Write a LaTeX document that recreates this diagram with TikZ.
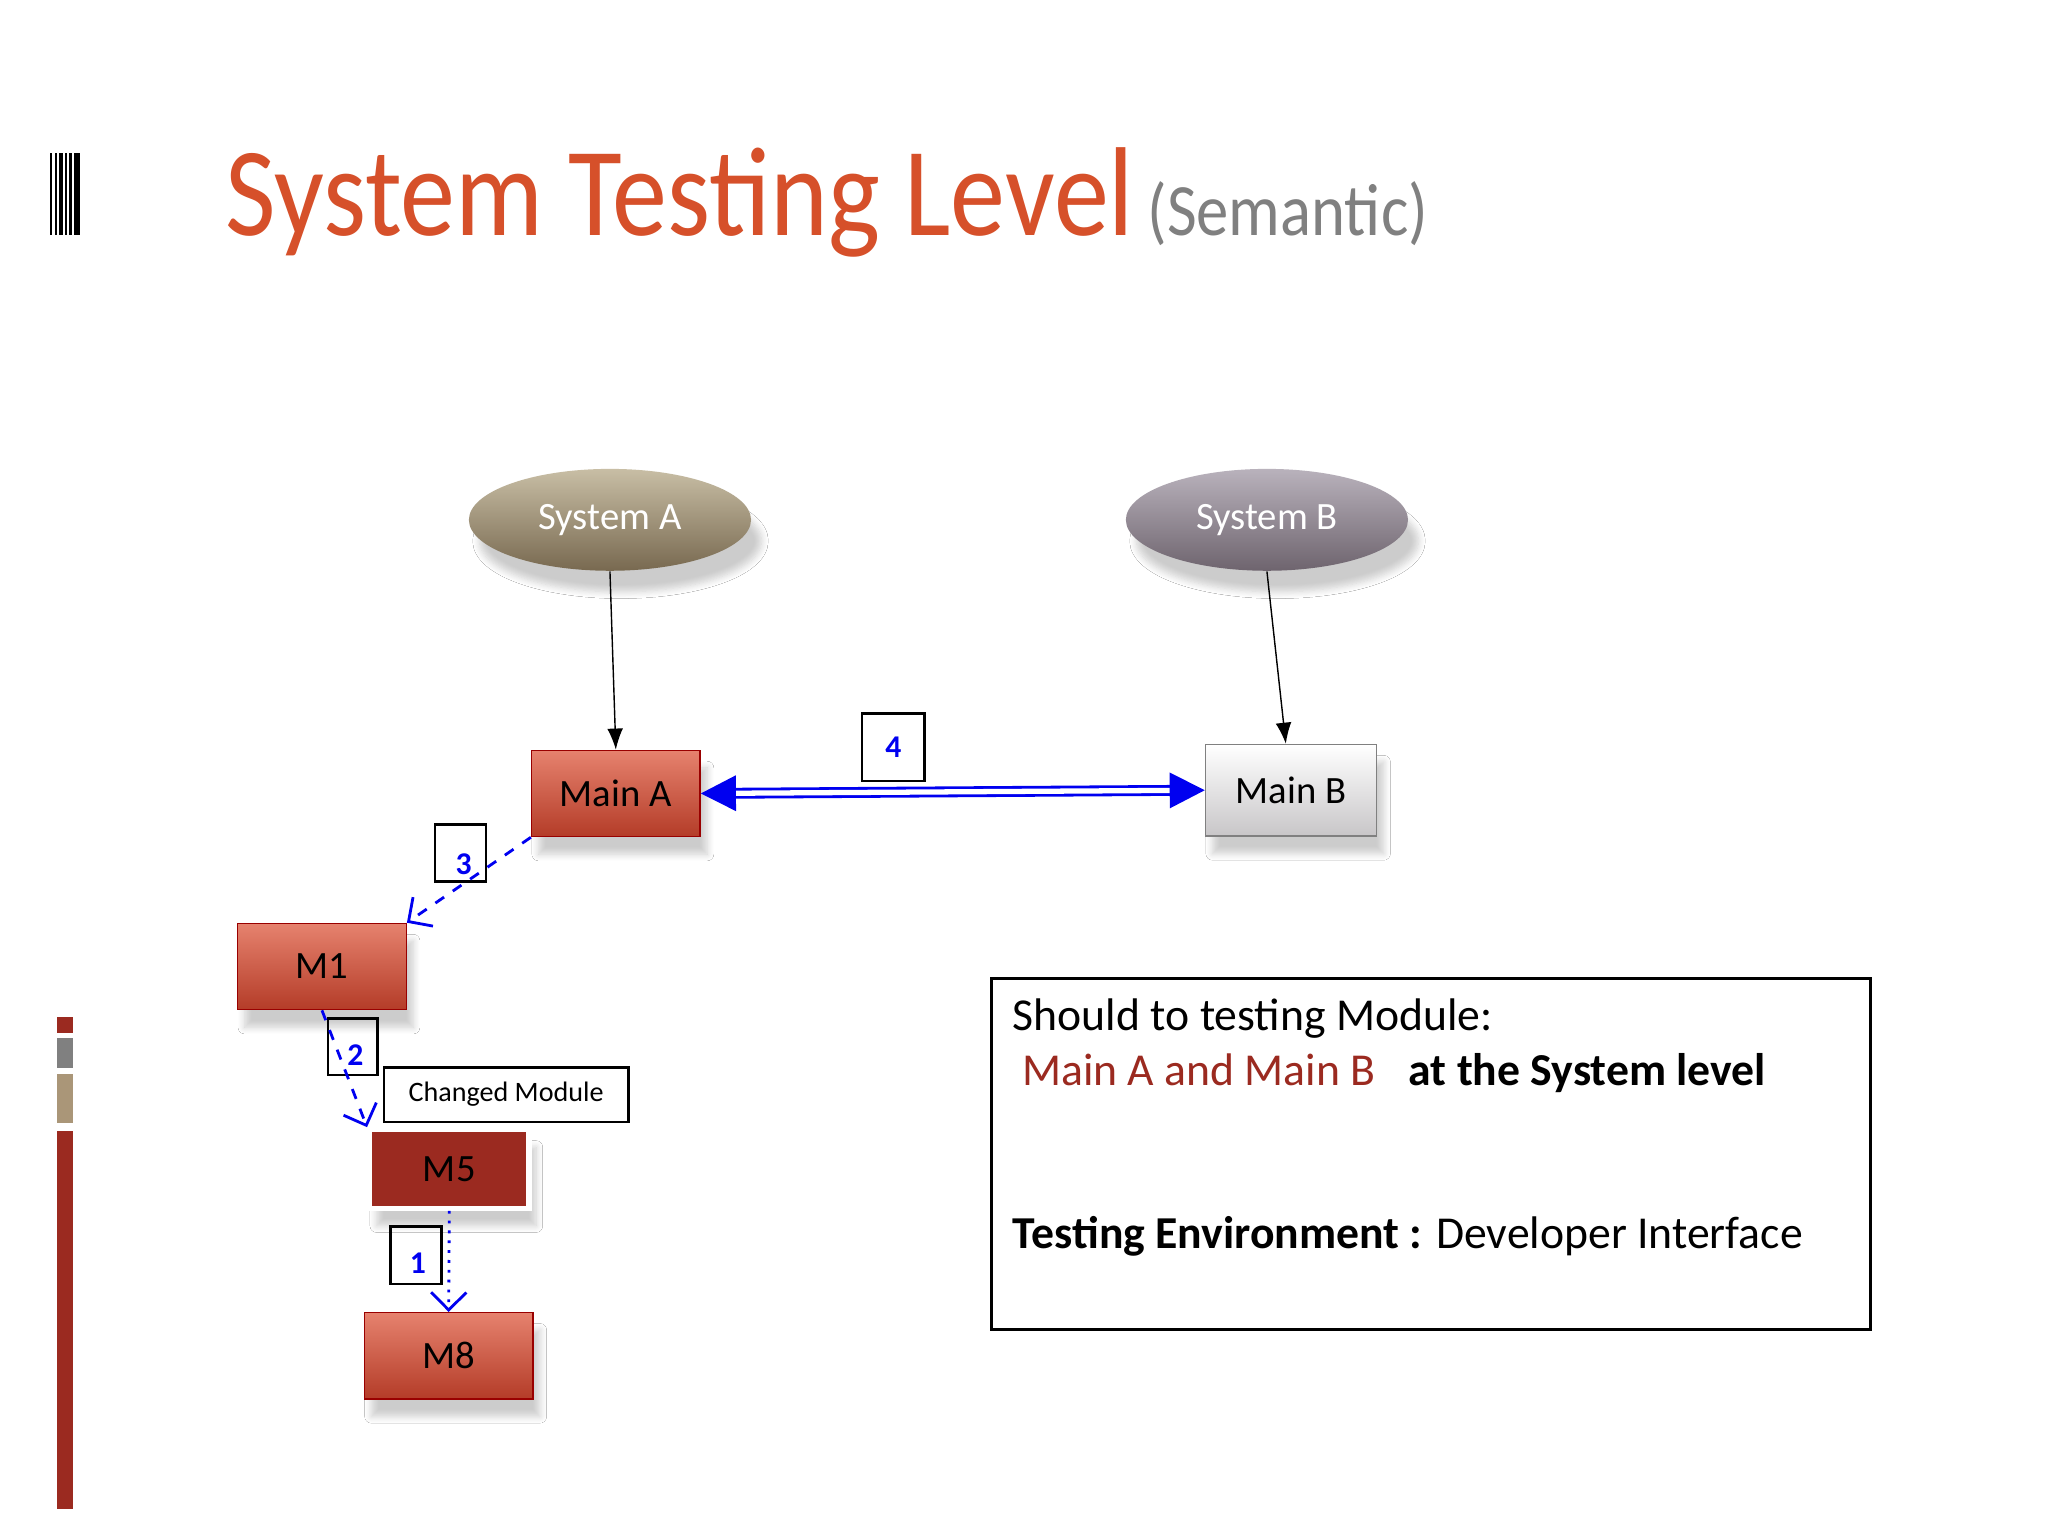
\documentclass[tikz,border=0pt]{standalone}
\usepackage{fontspec}
\setmainfont{Carlito}
\usetikzlibrary{shapes.geometric,arrows.meta,shadows.blur}
\definecolor{ttl}{HTML}{D6502A}
\definecolor{dred}{HTML}{9B2A20}
\definecolor{bluex}{HTML}{0000F0}
\definecolor{tanc}{HTML}{AA9678}
\definecolor{redtop}{HTML}{E6826E}
\definecolor{redbot}{HTML}{B43C28}
\definecolor{satop}{HTML}{C8BEA5}
\definecolor{sabot}{HTML}{786950}
\definecolor{sbtop}{HTML}{B9B2BC}
\definecolor{sbbot}{HTML}{6E646E}
\definecolor{mbbot}{HTML}{C8C6C8}
\tikzset{
 modbox/.style={draw=red!60!black,minimum width=129*0.01306cm,minimum height=66*0.01306cm,top color=redtop,bottom color=redbot,blur shadow={shadow xshift=2pt,shadow yshift=-5pt,shadow opacity=20,shadow blur steps=8},font=\fontsize{11}{13}\selectfont},
 sysell/.style={ellipse,minimum width=216*0.01306cm,minimum height=78*0.01306cm,text=white,font=\fontsize{11}{13}\selectfont,blur shadow={shadow xshift=3pt,shadow yshift=-6pt,shadow opacity=20,shadow blur steps=8}},
 numbox/.style={draw,thick,text=bluex,font=\bfseries\fontsize{9}{10}\selectfont,inner sep=0pt},
 bluedash/.style={draw=bluex,dashed,thick,-{Straight Barb[length=5pt]}},
}
\begin{document}
\begin{tikzpicture}[x=0.01306cm,y=-0.01306cm]
\useasboundingbox[fill=white] (0,0) rectangle (1568,1176);
% icon
\foreach \xx/\w in {38/2,42/1.5,45/3,50/1.5,53/2,57/4}{\fill (\xx,117) rectangle (\xx+\w,180);}
% left bar
\fill[dred] (44,779) rectangle (56,791);
\fill[gray] (44,795) rectangle (56,818);
\fill[tanc] (44,822) rectangle (56,860);
\fill[dred] (44,866) rectangle (56,1155);
% title
\node[anchor=base west,inner sep=0pt,text=ttl,font=\fontsize{36}{40}\selectfont] (title) at (172,180) {\scalebox{0.87}[1]{System Testing Level}};
\node[anchor=base west,inner sep=0pt,text=gray,font=\fontsize{20}{24}\selectfont] (sub) at (878,180) {\scalebox{0.92}[1.05]{(Semantic)}};
% systems
\node[sysell,top color=satop,bottom color=sabot] (sa) at (467,398) {System A};
\node[sysell,top color=sbtop,bottom color=sbbot] (sb) at (970,398) {System B};
% modules
\node[modbox] (ma) at (471.5,607.5) {Main A};
\node[modbox,draw=gray,top color=white,bottom color=mbbot,minimum width=131*0.01306cm,minimum height=70*0.01306cm] (mb) at (988.5,605) {Main B};
\node[modbox] (m1) at (246.5,740) {M1};
\node[modbox,draw=white,line width=1.5pt,top color=dred,bottom color=dred,minimum width=122*0.01306cm,minimum height=60*0.01306cm] (m5) at (344,895) {M5};
\node[modbox] (m8) at (343.5,1038) {M8};
\node[draw,thick,minimum width=187*0.01306cm,minimum height=42*0.01306cm,font=\fontsize{8}{10}\selectfont,inner sep=0pt] (chg) at (387.5,838) {Changed Module};
% number boxes
\node[numbox,minimum width=48*0.01306cm,minimum height=52*0.01306cm] (n4) at (684,572) {4};
\node[numbox,minimum width=39*0.01306cm,minimum height=44*0.01306cm,anchor=north west] (n3) at (332,630) {};
\node[numbox,minimum width=38*0.01306cm,minimum height=43*0.01306cm,anchor=north west] (n2) at (250,779) {};
\node[numbox,minimum width=39*0.01306cm,minimum height=44*0.01306cm,anchor=north west] (n1) at (298,938) {};
% arrows
\draw[-{Latex[length=6pt]}] (sa.south) -- (ma.north);
\draw[-{Latex[length=6pt]}] (sb.south) -- ([xshift=-1.5pt]mb.north);
\draw[bluex,double,double distance=1.5pt,thick,{Triangle[length=10pt,width=10pt]}-{Triangle[length=10pt,width=10pt]}] (ma.east) -- (mb.west);
\draw[bluedash] (ma.south west) -- (m1.north east);
\draw[bluedash] (m1.south) -- (m5.north west);
\draw[bluex,dotted,thick,-{Straight Barb[length=5pt]}] (m5.south) -- (m8.north);
\node[text=bluex,font=\bfseries\fontsize{9}{10}\selectfont] (t3) at (355,662) {3};
\node[text=bluex,font=\bfseries\fontsize{9}{10}\selectfont] (t2) at (272,808) {2};
\node[text=bluex,font=\bfseries\fontsize{9}{10}\selectfont] (t1) at (320,967) {1};
% text box
\node[draw,thick,minimum width=673*0.01306cm,minimum height=269*0.01306cm,anchor=north west] (tb) at (758,748) {};
\begin{scope}[every node/.style={anchor=base west,inner sep=0pt,font=\fontsize{13}{15}\selectfont}]
\node (l1) at (775,789) {Should to testing Module:};
\node[text=dred] (l2) at (782,831) {Main A and Main B};
\node[font=\bfseries\fontsize{13}{15}\selectfont] (l3) at (1078,831) {at the System level};
\node (l4) at (775,956) {\textbf{Testing Environment :} Developer Interface};
\end{scope}
\end{tikzpicture}
\end{document}
